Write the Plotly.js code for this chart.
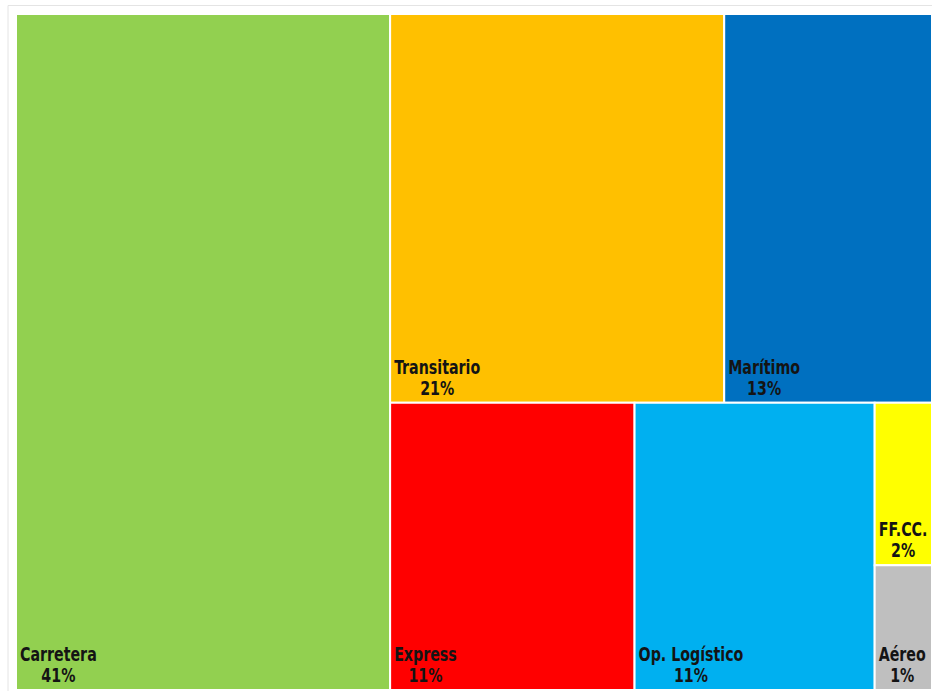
<!DOCTYPE html>
<html>
<head>
<meta charset="utf-8">
<script src="https://cdn.plot.ly/plotly-3.0.1.min.js"></script>
<style>
  html, body { margin: 0; padding: 0; background: #ffffff; }
  #chart { width: 932px; height: 691px; }
</style>
</head>
<body>
<div id="chart"></div>
<script>
// Data (share of total, %)
const categories = ["Carretera", "Transitario", "Marítimo", "Express", "Op. Logístico", "FF.CC.", "Aéreo"];
const shares = [40.7, 20.9, 13.0, 11.3, 11.1, 1.5, 1.15];
const shareLabels = ["41%", "21%", "13%", "11%", "11%", "2%", "1%"];
const tileColors = ["#92D050", "#FFC000", "#0070C0", "#FF0000", "#00B0F0", "#FFFF00", "#BFBFBF"];

const FONT_SIZE = 20;
const trace = {
  type: "treemap",
  labels: categories,
  parents: categories.map(() => ""),
  values: shares,
  text: shareLabels,
  sort: true,
  branchvalues: "remainder",
  texttemplate: "<b>%{label}</b><br><b>%{text}</b>",
  textposition: "bottom left",
  textfont: { family: "'DejaVu Sans Condensed', 'DejaVu Sans', sans-serif", size: FONT_SIZE, color: "#141414" },
  marker: {
    colors: tileColors,
    line: { color: "#ffffff", width: 2 },
    pad: { t: 0, l: 0, r: 0, b: 0 }
  },
  tiling: { packing: "squarify", pad: 0 },
  pathbar: { visible: false },
  hoverinfo: "label+text"
};

const layout = {
  width: 932,
  height: 691,
  margin: { l: 16, r: 0, t: 14, b: 1 },
  paper_bgcolor: "#ffffff",
  showlegend: false,
  uniformtext: { mode: "show", minsize: FONT_SIZE },
  shapes: [{
    type: "rect", xref: "paper", yref: "paper",
    x0: -8 / 916, x1: 1.01, y0: -0.01, y1: 1 + 8.5 / 676,
    line: { color: "#e4e4e4", width: 1 }, fillcolor: "rgba(0,0,0,0)", layer: "below"
  }]
};

const SX = 0.79;       // horizontal condensing of the label font
const LINE_EM = 1.05;  // tighter line spacing, as in the reference

const gd = document.getElementById("chart");
Plotly.newPlot(gd, [trace], layout, { displayModeBar: false, staticPlot: true }).then(() => {
  gd.querySelectorAll("text.slicetext").forEach(t => {
    const lines = t.querySelectorAll("tspan.line");
    if (!lines.length) return;
    const bb0 = t.getBBox();
    lines.forEach((ts, i) => ts.setAttribute("dy", (i * LINE_EM) + "em"));
    const bb1 = t.getBBox();
    const shiftY = (bb0.y + bb0.height) - (bb1.y + bb1.height);
    const cx = bb1.x + bb1.width / 2;
    t.setAttribute("text-anchor", "middle");
    t.style.textAnchor = "middle";
    lines.forEach(ts => ts.setAttribute("x", cx));
    const tr = t.getAttribute("transform") || "";
    t.setAttribute("transform",
      tr + " translate(" + (bb1.x + 1) + "," + shiftY + ") scale(" + SX + ",1) translate(" + (-bb1.x) + ",0)");
  });
});
</script>
</body>
</html>
